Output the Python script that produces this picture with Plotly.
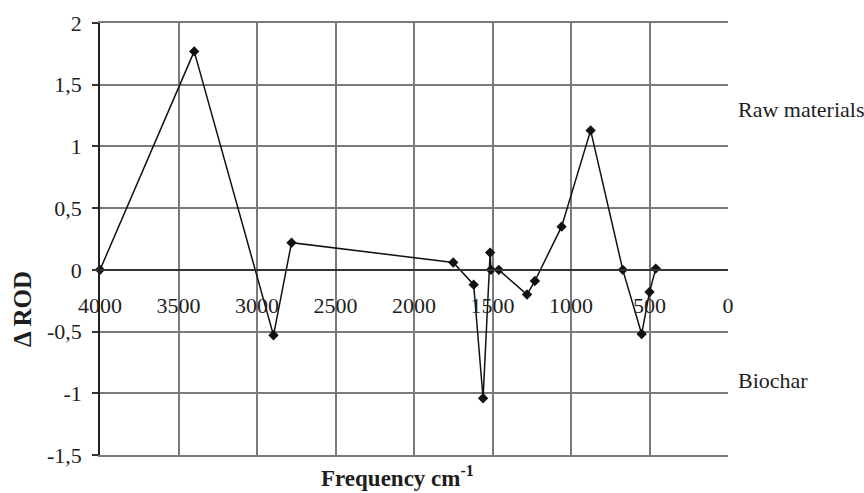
import plotly.graph_objects as go

freq = [4000, 3400, 2895, 2780, 1750, 1620, 1560, 1515, 1510, 1460, 1280, 1230, 1060, 875, 670, 550, 500, 460]
rod = [0.0, 1.77, -0.53, 0.22, 0.06, -0.12, -1.04, 0.14, 0.0, 0.0, -0.20, -0.09, 0.35, 1.13, 0.0, -0.52, -0.18, 0.01]

x_ticks = [4000, 3500, 3000, 2500, 2000, 1500, 1000, 500, 0]
y_ticks = [-1.5, -1, -0.5, 0, 0.5, 1, 1.5, 2]

FONT = "Liberation Serif"
TXT = "#1e1e1e"
grid = "#7a7a7a"

fig = go.Figure()
fig.add_trace(go.Scatter(
    x=freq, y=rod, mode="lines+markers",
    line=dict(color="#111111", width=1.5),
    marker=dict(symbol="diamond", size=8, color="#111111"),
    cliponaxis=False, showlegend=False,
))
# invisible trace to carry the tick-label axis drawn at y = 0
fig.add_trace(go.Scatter(
    x=freq, y=rod, mode="lines", xaxis="x2", yaxis="y",
    line=dict(width=0), opacity=0, hoverinfo="skip", showlegend=False,
))

fig.update_layout(
    width=864, height=493,
    margin=dict(l=100, r=136, t=23, b=38),
    paper_bgcolor="white", plot_bgcolor="white",
    font=dict(family=FONT, size=22, color=TXT),
    xaxis=dict(
        range=[4000, 0], tickvals=x_ticks, showticklabels=False,
        showgrid=True, gridcolor=grid, gridwidth=1.5,
        zeroline=False, showline=True, linecolor=grid, linewidth=1.5,
        mirror=True, ticks="",
    ),
    xaxis2=dict(
        range=[4000, 0], tickvals=x_ticks, ticktext=[str(v) for v in x_ticks],
        overlaying="x", anchor="free", position=1.5 / 3.5, side="bottom",
        showgrid=False, zeroline=False, showline=True, linecolor="#333333",
        linewidth=1.5, ticks="", ticklabelstandoff=16,
        tickfont=dict(family=FONT, size=22, color=TXT),
    ),
    yaxis=dict(
        range=[-1.5, 2], tickvals=y_ticks,
        ticktext=[("%g" % v).replace(".", ",") for v in y_ticks],
        showgrid=True, gridcolor=grid, gridwidth=1.5,
        zeroline=False, showline=True, linecolor="#222222", linewidth=1.5,
        ticks="outside", ticklen=6, tickcolor="#333333", tickwidth=1.5,
        ticklabelstandoff=6,
        tickfont=dict(family=FONT, size=22, color=TXT),
    ),
    annotations=[
        dict(text="<b>Δ ROD</b>", textangle=-90, x=22, y=309,
             font=dict(family=FONT, size=25, color=TXT)),
        dict(text="<b>Frequency cm<sup>-1</sup></b>", x=397, y=476,
             font=dict(family=FONT, size=23, color=TXT)),
        dict(text="Raw materials", x=736, y=110, xanchor="left",
             font=dict(family=FONT, size=22, color=TXT)),
        dict(text="Biochar", x=736, y=380, xanchor="left",
             font=dict(family=FONT, size=22, color=TXT)),
    ],
)

# convert pixel positions of annotations to paper fractions
W, H = 864, 493
l, r, t, b = 100, 136, 23, 38
pw, ph = W - l - r, H - t - b
for a in fig.layout.annotations:
    a.xref = "paper"
    a.yref = "paper"
    a.showarrow = False
    if a.xanchor is None:
        a.xanchor = "center"
    a.yanchor = "middle"
    a.x = (a.x - l) / pw
    a.y = 1 - (a.y - t) / ph

fig.write_html("out.html")
